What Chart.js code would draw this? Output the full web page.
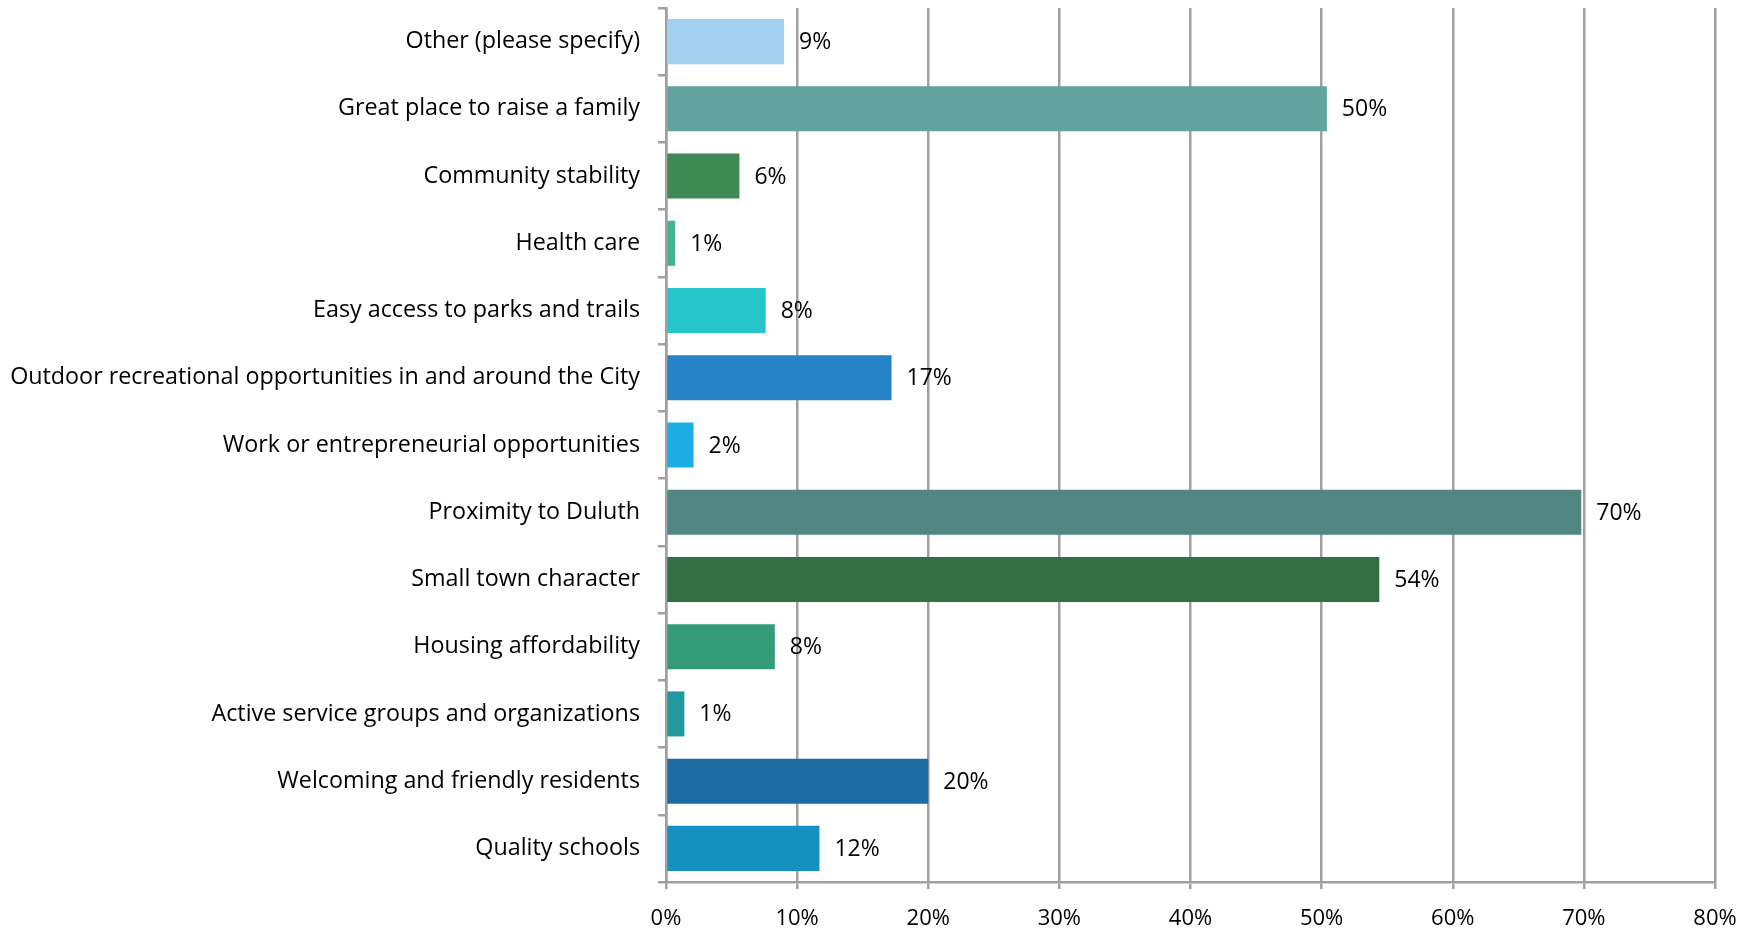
<!DOCTYPE html>
<html>
<head>
<meta charset="utf-8">
<script src="https://cdn.jsdelivr.net/npm/chart.js@4.4.0/dist/chart.umd.min.js"></script>
<style>
  html, body { margin: 0; padding: 0; background: #fff; }
  #wrap { width: 1760px; height: 930px; position: relative; }
</style>
</head>
<body>
<div id="wrap"><canvas id="reasonsChart"></canvas></div>
<script>
const categories = [
    'Other (please specify)',
    'Great place to raise a family',
    'Community stability',
    'Health care',
    'Easy access to parks and trails',
    'Outdoor recreational opportunities in and around the City',
    'Work or entrepreneurial opportunities',
    'Proximity to Duluth',
    'Small town character',
    'Housing affordability',
    'Active service groups and organizations',
    'Welcoming and friendly residents',
    'Quality schools'
];
const shares = [9.0, 50.4, 5.6, 0.7, 7.6, 17.2, 2.1, 69.8, 54.4, 8.3, 1.4, 20.0, 11.7];
const barColors = [
    '#A3D0EE', '#63A39F', '#3D8A55', '#40B48E', '#28C4CB', '#2683C6', '#1CADE4',
    '#518683', '#336F43', '#359C7A', '#21999D', '#1D6BA3', '#1690BE'
];
const xTicks = [0, 10, 20, 30, 40, 50, 60, 70, 80];

const FONT = '"Open Sans", "Noto Sans", sans-serif';

const valueLabels = {
    id: 'valueLabels',
    afterDatasetsDraw(chart) {
        const ctx = chart.ctx;
        const meta = chart.getDatasetMeta(0);
        ctx.save();
        ctx.font = '23px ' + FONT;
        ctx.fillStyle = '#000';
        ctx.textAlign = 'left';
        ctx.textBaseline = 'middle';
        meta.data.forEach((bar, i) => {
            ctx.fillText(Math.round(shares[i]) + '%', bar.x + 15, bar.y + 1);
        });
        ctx.restore();
    }
};

function initializeChart() {
    const ctx = document.getElementById('reasonsChart').getContext('2d');
    new Chart(ctx, {
        type: 'bar',
        data: {
            labels: categories,
            datasets: [{
                data: shares,
                backgroundColor: barColors,
                borderWidth: 0,
                categoryPercentage: 1,
                barPercentage: 0.67
            }]
        },
        options: {
            indexAxis: 'y',
            responsive: true,
            maintainAspectRatio: false,
            animation: false,
            layout: { padding: { top: 8, right: 45, bottom: 0, left: 0 } },
            scales: {
                x: {
                    min: 0,
                    max: 80,
                    afterBuildTicks: (scale) => { scale.ticks = xTicks.map(v => ({ value: v })); },
                    afterFit: (scale) => {
                        scale.height = 48;
                        scale.paddingLeft = 0;
                        scale.paddingRight = 0;
                    },
                    ticks: {
                        color: '#000',
                        font: { family: FONT, size: 22 },
                        padding: 17,
                        callback: (v) => v + '%'
                    },
                    grid: { color: '#A0A0A0', lineWidth: 2.5, tickLength: 7 },
                    border: { color: '#A0A0A0', width: 2.5 }
                },
                y: {
                    afterFit: (scale) => {
                        scale.width = 666;
                        scale.paddingTop = 0;
                        scale.paddingBottom = 0;
                    },
                    ticks: {
                        color: '#000',
                        font: { family: FONT, size: 23.3 },
                        padding: 18,
                        autoSkip: false
                    },
                    grid: { offset: true, drawOnChartArea: false, color: '#A0A0A0', lineWidth: 2.5, tickLength: 8 },
                    border: { color: '#A0A0A0', width: 2.5 }
                }
            },
            plugins: {
                legend: { display: false },
                tooltip: { enabled: false }
            }
        },
        plugins: [valueLabels]
    });
}
document.addEventListener('DOMContentLoaded', initializeChart);
</script>
</body>
</html>
